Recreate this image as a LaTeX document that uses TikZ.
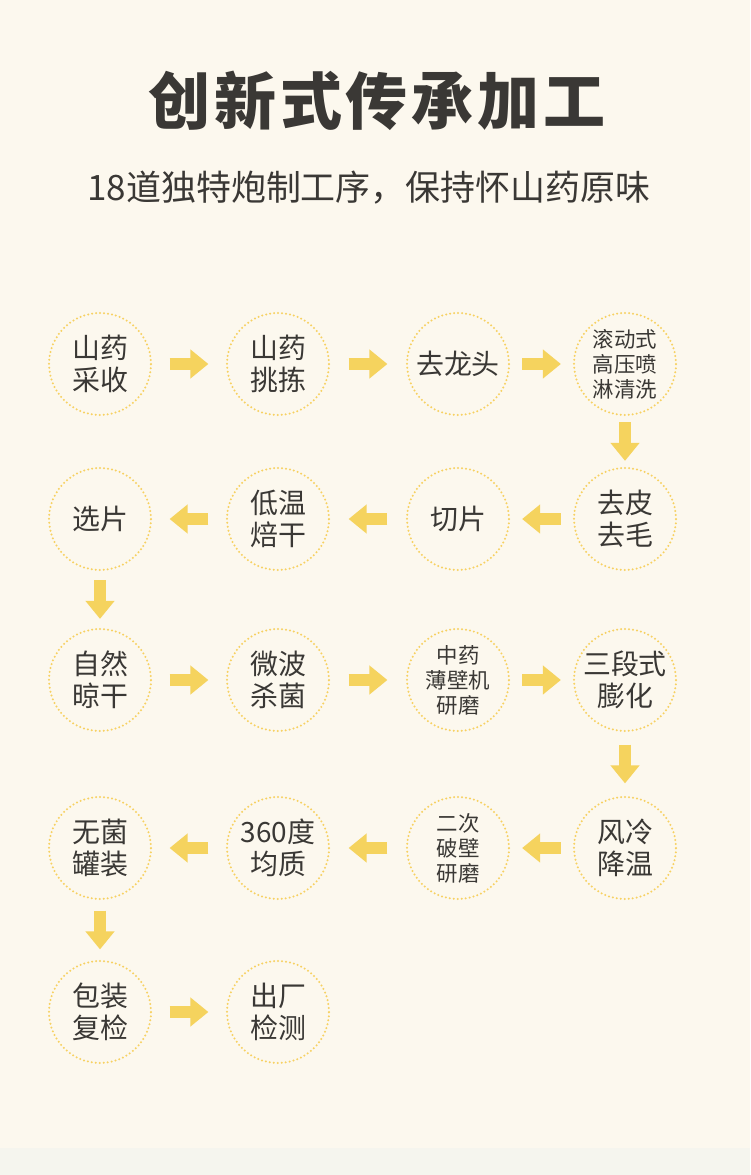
\documentclass[tikz,border=0pt]{standalone}
\usepackage{fontspec}
\setmainfont{Noto Sans CJK SC}
\usetikzlibrary{arrows.meta}
\definecolor{bgpaper}{HTML}{FCF8EE}
\definecolor{bgfoot}{HTML}{F5F5EE}
\definecolor{inkgray}{HTML}{3A3835}
\definecolor{dotgold}{HTML}{F7D162}
\definecolor{arrowgold}{HTML}{F5D35E}
\tikzset{
  proc/.style={circle, draw=dotgold, line width=0.045cm, dash pattern=on 0pt off 0.08cm, line cap=round,
    minimum size=2.04cm, inner sep=0pt, align=center, text=inkgray, font=\fontsize{15.9}{18.2}\selectfont},
  procsmall/.style={proc, font=\fontsize{12.2}{14.2}\selectfont},
  pass/.style={draw=arrowgold, line width=0.24cm, shorten <=#1, shorten >=#1,
    -{Triangle[width=0.56cm,length=0.36cm]}}
}
\begin{document}
\begin{tikzpicture}[x=0.02cm,y=-0.02cm]
\fill[bgpaper] (0,0) rectangle (750,1148);
\fill[bgfoot] (0,1148) rectangle (750,1175);
\useasboundingbox (0,0) rectangle (750,1175);
\node[text=inkgray, font=\bfseries\fontsize{35.3}{40}\selectfont\addfontfeature{LetterSpace=6}] (title) at (377,101) {创新式传承加工};
\node[text=inkgray, font=\fontsize{19.9}{23}\selectfont] (subtitle) at (369,188) {18道独特炮制工序，保持怀山药原味};
\node[proc] (caishou) at (100,364) {山药\\采收};
\node[proc] (tiaojian) at (278,364) {山药\\挑拣};
\node[proc] (qulongtou) at (458,364) {去龙头};
\node[procsmall] (penlin) at (625,364) {滚动式\\高压喷\\淋清洗};
\node[proc] (qupi) at (625,519) {去皮\\去毛};
\node[proc] (qiepian) at (458,519) {切片};
\node[proc] (beigan) at (278,519) {低温\\焙干};
\node[proc] (xuanpian) at (100,519) {选片};
\node[proc] (liangan) at (100,680) {自然\\晾干};
\node[proc] (shajun) at (278,680) {微波\\杀菌};
\node[procsmall] (yanmo) at (458,680) {中药\\薄壁机\\研磨};
\node[proc] (penghua) at (625,680) {三段式\\膨化};
\node[proc] (jiangwen) at (625,848) {风冷\\降温};
\node[procsmall] (pobi) at (458,848) {二次\\破壁\\研磨};
\node[proc] (junzhi) at (278,848) {360度\\均质};
\node[proc] (guanzhuang) at (100,848) {无菌\\罐装};
\node[proc] (baozhuang) at (100,1012) {包装\\复检};
\node[proc] (chuchang) at (278,1012) {出厂\\检测};
\draw[pass=0.35cm] (caishou) -- (tiaojian);
\draw[pass=0.37cm] (tiaojian) -- (qulongtou);
\draw[pass=0.24cm] (qulongtou) -- (penlin);
\draw[pass=0.12cm] (penlin) -- (qupi);
\draw[pass=0.24cm] (qupi) -- (qiepian);
\draw[pass=0.37cm] (qiepian) -- (beigan);
\draw[pass=0.35cm] (beigan) -- (xuanpian);
\draw[pass=0.18cm] (xuanpian) -- (liangan);
\draw[pass=0.35cm] (liangan) -- (shajun);
\draw[pass=0.37cm] (shajun) -- (yanmo);
\draw[pass=0.24cm] (yanmo) -- (penghua);
\draw[pass=0.25cm] (penghua) -- (jiangwen);
\draw[pass=0.24cm] (jiangwen) -- (pobi);
\draw[pass=0.37cm] (pobi) -- (junzhi);
\draw[pass=0.35cm] (junzhi) -- (guanzhuang);
\draw[pass=0.21cm] (guanzhuang) -- (baozhuang);
\draw[pass=0.35cm] (baozhuang) -- (chuchang);
\end{tikzpicture}
\end{document}
